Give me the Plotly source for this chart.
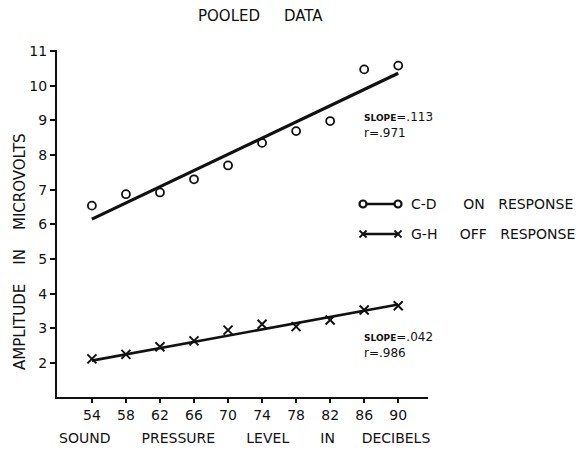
import plotly.graph_objects as go

# ---- data ----
spl_db = [54, 58, 62, 66, 70, 74, 78, 82, 86, 90]
on_response = [6.54, 6.87, 6.92, 7.30, 7.70, 8.35, 8.69, 8.98, 10.47, 10.58]
off_response = [2.12, 2.25, 2.47, 2.64, 2.95, 3.12, 3.05, 3.24, 3.53, 3.65]
fit_x = [54, 90]
fit_on = [6.15, 10.36]
fit_off = [2.07, 3.69]
x_ticks = [54, 58, 62, 66, 70, 74, 78, 82, 86, 90]
y_ticks = [2, 3, 4, 5, 6, 7, 8, 9, 10, 11]

FONT = "DejaVu Sans"
INK = "#111111"

fig = go.Figure()
fig.add_trace(go.Scatter(x=fit_x, y=fit_on, mode="lines",
                         line=dict(color=INK, width=3.2), showlegend=False))
fig.add_trace(go.Scatter(x=spl_db, y=on_response, mode="markers",
                         marker=dict(symbol="circle-open", size=8, color=INK,
                                     line=dict(width=1.8, color=INK)),
                         showlegend=False))
fig.add_trace(go.Scatter(x=fit_x, y=fit_off, mode="lines",
                         line=dict(color=INK, width=2.6), showlegend=False))
fig.add_trace(go.Scatter(x=spl_db, y=off_response, mode="markers",
                         marker=dict(symbol="x-thin-open", size=9, color=INK,
                                     line=dict(width=2, color=INK)),
                         showlegend=False))

L, R, T, B = 57, 148, 50, 63
W, H = 576, 460
pw, ph = W - L - R, H - T - B

def px(x):
    return (x - L) / pw

def py(y):
    return (H - B - y) / ph

sp = "\u00a0"

def ann(text, x, y, size=13, xanchor="center", angle=0):
    return dict(text=text, x=px(x), y=py(y), xref="paper", yref="paper",
                xanchor=xanchor, yanchor="middle", showarrow=False, textangle=angle,
                align="left", font=dict(family=FONT, size=size, color=INK))

slope_tag = "<b><span style='font-size:9px'>SLOPE</span></b>"

annotations = [
    ann("POOLED" + sp * 5 + "DATA", 260, 16, size=15),
    ann("SOUND" + sp * 7 + "PRESSURE" + sp * 7 + "LEVEL" + sp * 7 + "IN" + sp * 6 + "DECIBELS",
        245, 438, size=14),
    ann("AMPLITUDE" + sp * 4 + "IN" + sp * 4 + "MICROVOLTS", 20, 252, size=15, angle=-90),
    ann(slope_tag + "=.113<br>r=.971", 362, 125, size=12, xanchor="left"),
    ann(slope_tag + "=.042<br>r=.986", 362, 345, size=12, xanchor="left"),
    ann("C-D" + sp * 6 + "ON" + sp * 3 + "RESPONSE", 409, 204, size=14, xanchor="left"),
    ann("G-H" + sp * 5 + "OFF" + sp * 3 + "RESPONSE", 409, 234, size=14, xanchor="left"),
]

shapes = []
# legend row 1: circle - circle
shapes.append(dict(type="line", xref="paper", yref="paper", x0=px(363), x1=px(398),
                   y0=py(204), y1=py(204), line=dict(color=INK, width=2.5)))
for cx in (363, 398):
    shapes.append(dict(type="circle", xref="paper", yref="paper", xsizemode="pixel",
                       ysizemode="pixel", xanchor=px(cx), yanchor=py(204),
                       x0=-3.5, x1=3.5, y0=-3.5, y1=3.5,
                       line=dict(color=INK, width=2.2), fillcolor="white"))
# legend row 2: cross - cross
shapes.append(dict(type="line", xref="paper", yref="paper", x0=px(363), x1=px(398),
                   y0=py(234), y1=py(234), line=dict(color=INK, width=2.5)))
for cx in (363, 398):
    for s in (1, -1):
        shapes.append(dict(type="line", xref="paper", yref="paper", xsizemode="pixel",
                           ysizemode="pixel", xanchor=px(cx), yanchor=py(234),
                           x0=-3.5, x1=3.5, y0=-3.5 * s, y1=3.5 * s,
                           line=dict(color=INK, width=1.8)))

fig.update_layout(
    width=W, height=H,
    margin=dict(l=L, r=R, t=T, b=B, pad=0),
    paper_bgcolor="white", plot_bgcolor="white",
    showlegend=False,
    annotations=annotations,
    shapes=shapes,
    xaxis=dict(range=[49.9, 93.5], tickvals=x_ticks, ticktext=[str(v) for v in x_ticks],
               showgrid=False, zeroline=False, showline=True, linecolor=INK, linewidth=2,
               ticks="outside", ticklen=4, tickwidth=1.5, tickcolor=INK,
               tickfont=dict(family=FONT, size=14, color=INK)),
    yaxis=dict(range=[1.02, 11.03], tickvals=y_ticks, ticktext=[str(v) for v in y_ticks],
               showgrid=False, zeroline=False, showline=True, linecolor=INK, linewidth=2,
               ticks="outside", ticklen=5, tickwidth=1.5, tickcolor=INK,
               tickfont=dict(family=FONT, size=14, color=INK)),
)

fig.write_html("out.html")
